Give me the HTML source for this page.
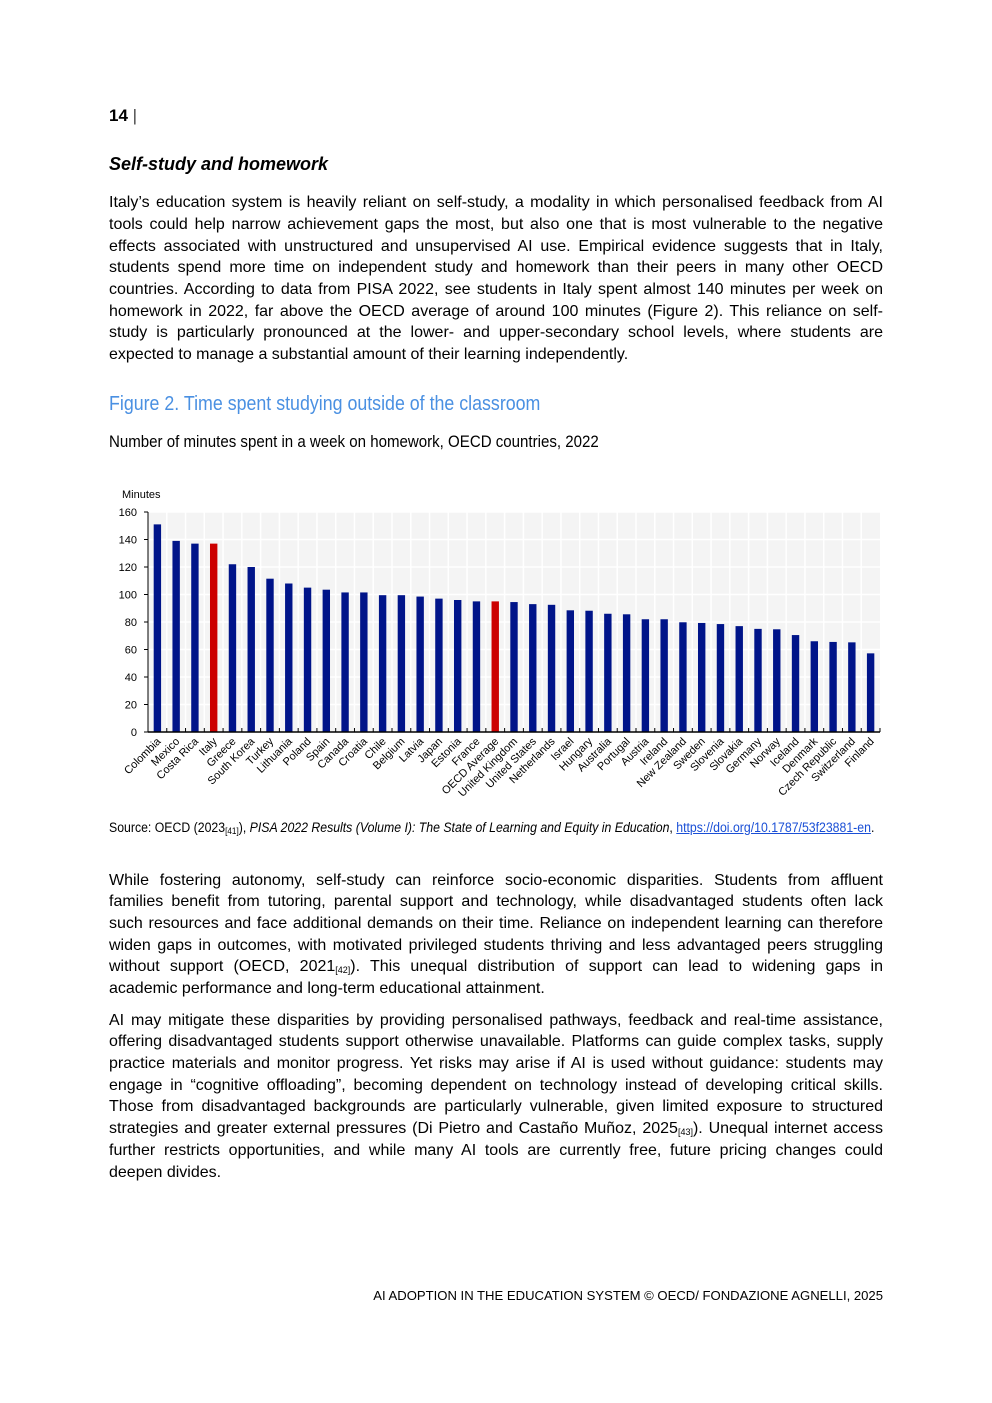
<!DOCTYPE html>
<html><head><meta charset="utf-8"><style>
body{margin:0;background:#fff;}
#page{position:relative;width:992px;height:1403px;font-family:"Liberation Sans",sans-serif;color:#000;}
.ab{position:absolute;}
.ln{position:absolute;left:109px;width:774px;font-size:16px;line-height:20px;text-align:justify;text-align-last:justify;white-space:nowrap;}
.ln.l{text-align-last:left;}
.narrow{transform-origin:0 0;white-space:nowrap;}
sub{font-size:9px;vertical-align:-2px;}
</style></head><body>
<div id="page">
<div class="ab" style="left:109px;top:106px;font-size:17px;font-weight:bold;">14<span style="font-weight:normal;color:#444;"> |</span></div>
<div class="ab" style="left:109px;top:154px;font-size:18px;font-weight:bold;font-style:italic;">Self-study and homework</div>
<div>
<div class="ln" style="top:193px">Italy’s education system is heavily reliant on self-study, a modality in which personalised feedback from AI</div>
<div class="ln" style="top:215px">tools could help narrow achievement gaps the most, but also one that is most vulnerable to the negative</div>
<div class="ln" style="top:237px">effects associated with unstructured and unsupervised AI use. Empirical evidence suggests that in Italy,</div>
<div class="ln" style="top:258px">students spend more time on independent study and homework than their peers in many other OECD</div>
<div class="ln" style="top:280px">countries. According to data from PISA 2022, see students in Italy spent almost 140 minutes per week on</div>
<div class="ln" style="top:302px">homework in 2022, far above the OECD average of around 100 minutes (Figure 2). This reliance on self-</div>
<div class="ln" style="top:323px">study is particularly pronounced at the lower- and upper-secondary school levels, where students are</div>
<div class="ln l" style="top:345px">expected to manage a substantial amount of their learning independently.</div>
</div>
<div class="ab narrow" style="left:109px;top:393px;font-size:20px;color:#4a90e2;transform:scaleX(0.89);">Figure 2. Time spent studying outside of the classroom</div>
<div class="ab narrow" style="left:109px;top:432px;font-size:17px;transform:scaleX(0.886);">Number of minutes spent in a week on homework, OECD countries, 2022</div>

<svg class="ab" style="left:0;top:480px" width="992" height="330">
<g id="chart"></g>
</svg>

<div class="ab narrow" style="left:109px;top:820px;font-size:13.5px;transform:scaleX(0.91);">Source: OECD (2023<sub>[41]</sub>), <i>PISA 2022 Results (Volume I): The State of Learning and Equity in Education</i>, <span style="color:#1a4fd6;text-decoration:underline;">https://doi.org/10.1787/53f23881-en</span>.</div>

<div>
<div class="ln" style="top:871px">While fostering autonomy, self-study can reinforce socio-economic disparities. Students from affluent</div>
<div class="ln" style="top:892px">families benefit from tutoring, parental support and technology, while disadvantaged students often lack</div>
<div class="ln" style="top:914px">such resources and face additional demands on their time. Reliance on independent learning can therefore</div>
<div class="ln" style="top:936px">widen gaps in outcomes, with motivated privileged students thriving and less advantaged peers struggling</div>
<div class="ln" style="top:957px">without support (OECD, 2021<sub>[42]</sub>). This unequal distribution of support can lead to widening gaps in</div>
<div class="ln l" style="top:979px">academic performance and long-term educational attainment.</div>
</div>
<div>
<div class="ln" style="top:1011px">AI may mitigate these disparities by providing personalised pathways, feedback and real-time assistance,</div>
<div class="ln" style="top:1032px">offering disadvantaged students support otherwise unavailable. Platforms can guide complex tasks, supply</div>
<div class="ln" style="top:1054px">practice materials and monitor progress. Yet risks may arise if AI is used without guidance: students may</div>
<div class="ln" style="top:1076px">engage in “cognitive offloading”, becoming dependent on technology instead of developing critical skills.</div>
<div class="ln" style="top:1097px">Those from disadvantaged backgrounds are particularly vulnerable, given limited exposure to structured</div>
<div class="ln" style="top:1119px">strategies and greater external pressures (Di Pietro and Castaño Muñoz, 2025<sub>[43]</sub>). Unequal internet access</div>
<div class="ln" style="top:1141px">further restricts opportunities, and while many AI tools are currently free, future pricing changes could</div>
<div class="ln l" style="top:1163px">deepen divides.</div>
</div>
<div class="ab" style="right:109px;top:1288px;font-size:13.1px;">AI ADOPTION IN THE EDUCATION SYSTEM © OECD/ FONDAZIONE AGNELLI, 2025</div>
</div>
<script>
const categories=["Colombia","Mexico","Costa Rica","Italy","Greece","South Korea","Turkey","Lithuania","Poland","Spain","Canada","Croatia","Chile","Belgium","Latvia","Japan","Estonia","France","OECD Average","United Kingdom","United States","Netherlands","Israel","Hungary","Australia","Portugal","Austria","Ireland","New Zealand","Sweden","Slovenia","Slovakia","Germany","Norway","Iceland","Denmark","Czech Republic","Switzerland","Finland"];
const values=[151,139,137,137,122,120,111.5,108,105,103.5,101.5,101.5,99.5,99.5,98.5,97,96,95,95,94.5,93,92.5,88.5,88.2,86,85.6,82,82,79.8,79.3,78.5,77,75,74.7,70.5,66,65.5,65.2,57.2];
const highlighted=["Italy","OECD Average"];
const yTicks=[0,20,40,60,80,100,120,140,160];
const NS="http://www.w3.org/2000/svg";
const g=document.getElementById('chart');
const X0=148,X1=880,YT=32,YB=252,YMAX=160;
const band=(X1-X0)/categories.length;
const y=v=>YB-(v/YMAX)*(YB-YT);
const xc=i=>X0+band*(i+0.5);
function mk(t,a){const e=document.createElementNS(NS,t);for(const k in a)e.setAttribute(k,a[k]);g.appendChild(e);return e;}
let bg=mk('rect',{x:X0,y:YT,width:X1-X0,height:YB-YT,fill:'#f4f4f4'});


yTicks.forEach(t=>{
  if(t>0){const gl=mk('line',{x1:X0,x2:X1,y1:y(t),y2:y(t),stroke:'#fff','stroke-width':1.5});
  
  }
  const tl=mk('text',{x:137,y:y(t)+4,'text-anchor':'end','font-size':11,'font-family':'Liberation Sans, sans-serif'});
  tl.textContent=t;
  
  
  const tk=mk('line',{x1:X0-4,x2:X0,y1:y(t),y2:y(t),stroke:'#000'});
  
  
});
for(let i=1;i<categories.length;i++){
  const vl=mk('line',{x1:X0+band*i,x2:X0+band*i,y1:YT,y2:YB,stroke:'#fff','stroke-width':1.5});
  
  
}
const yt=mk('text',{x:122,y:18,'font-size':11,'font-family':'Liberation Sans, sans-serif'});
yt.textContent='Minutes';


categories.forEach((c,i)=>{
  const v=values[i];
  const r=mk('rect',{x:xc(i)-3.7,y:y(v),width:7.4,height:YB-y(v),fill:highlighted.includes(c)?'#cc0000':'#001489'});
  
  
  const tk=mk('line',{x1:X0+band*(i+1),x2:X0+band*(i+1),y1:YB,y2:YB-4,stroke:'#000'});
  
  
  const lx=xc(i)+4,ly=YB+10;
  const tl=mk('text',{x:lx,y:ly,'text-anchor':'end','font-size':11,'font-family':'Liberation Sans, sans-serif',transform:`rotate(-45 ${lx} ${ly})`});
  tl.textContent=c;
  
  
});
const ax=mk('line',{x1:X0,x2:X1,y1:YB,y2:YB,stroke:'#000','stroke-width':1.5});


const ay=mk('line',{x1:X0,x2:X0,y1:YT,y2:YB,stroke:'#000','stroke-width':1});


</script>
</body></html>
